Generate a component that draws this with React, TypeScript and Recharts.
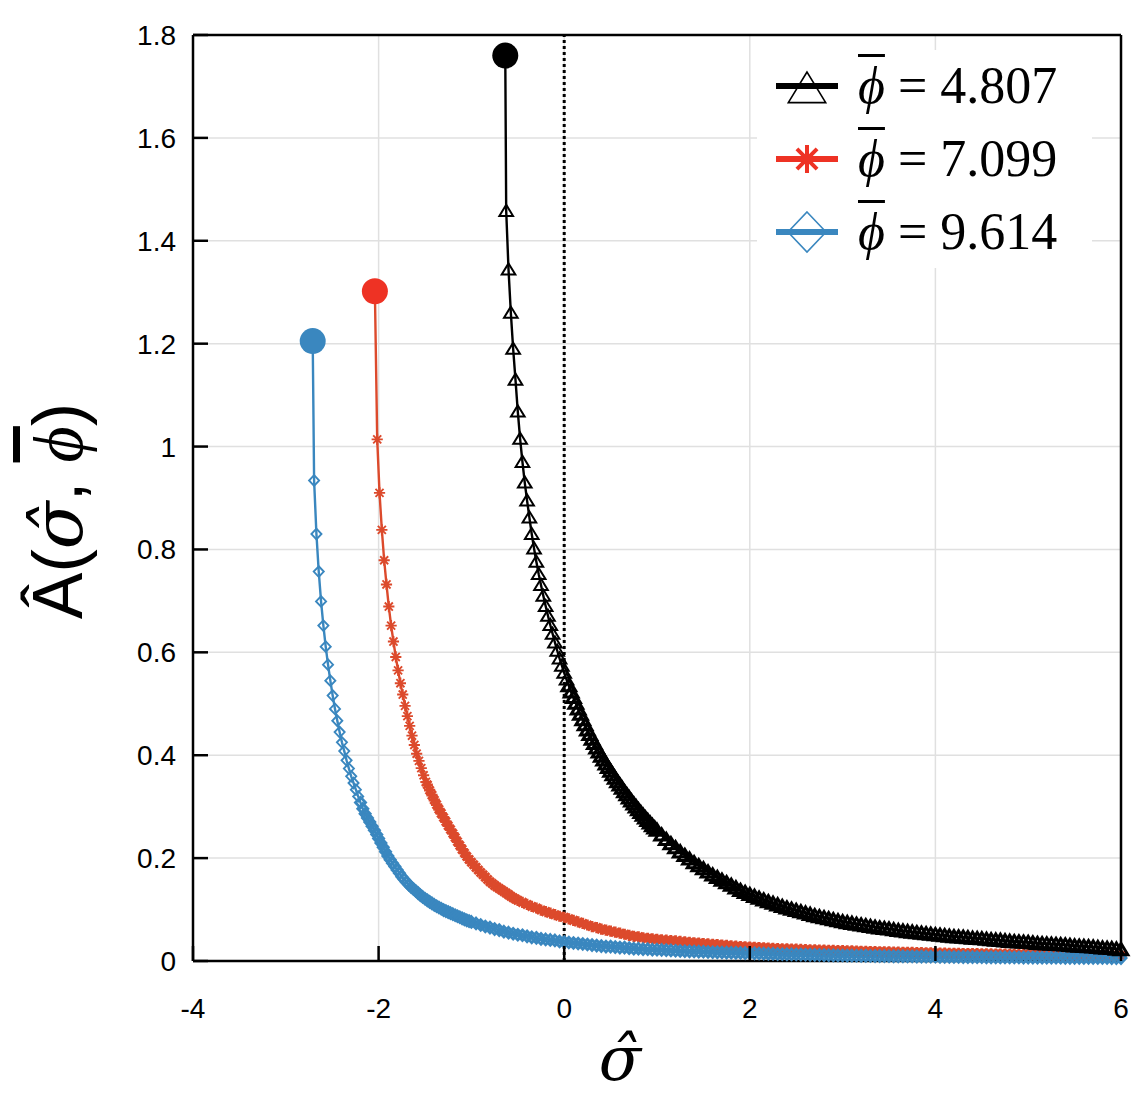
import { LineChart, Line, XAxis, YAxis, CartesianGrid, ReferenceLine } from 'recharts';

const xTicks = [-4, -2, 0, 2, 4, 6];
const yTicks = [0, 0.2, 0.4, 0.6, 0.8, 1, 1.2, 1.4, 1.6, 1.8];
const phiLabels = ['4.807', '7.099', '9.614'];

// [sigma, A]; the first pair is the branch point (big dot)
const curve4807: [number, number][] = [
  [-0.635, 1.76], [-0.625, 1.458], [-0.6, 1.344], [-0.575, 1.26], [-0.55, 1.19], [-0.525, 1.13],
  [-0.5, 1.068], [-0.475, 1.015], [-0.45, 0.97], [-0.425, 0.93], [-0.4, 0.895], [-0.375, 0.862],
  [-0.35, 0.83], [-0.325, 0.802], [-0.3, 0.776], [-0.275, 0.752], [-0.25, 0.731], [-0.225, 0.71],
  [-0.2, 0.69], [-0.175, 0.671], [-0.15, 0.653], [-0.125, 0.636], [-0.1, 0.619], [-0.075, 0.603],
  [-0.05, 0.588], [-0.025, 0.574], [0, 0.56], [0.025, 0.547], [0.05, 0.535], [0.075, 0.523],
  [0.1, 0.512], [0.125, 0.501], [0.15, 0.49], [0.175, 0.4795], [0.2, 0.469], [0.225, 0.459],
  [0.25, 0.449], [0.275, 0.44], [0.3, 0.431], [0.325, 0.4225], [0.35, 0.414], [0.375, 0.406],
  [0.4, 0.398], [0.425, 0.3905], [0.45, 0.383], [0.475, 0.376], [0.5, 0.369], [0.525, 0.362],
  [0.55, 0.355], [0.575, 0.3485], [0.6, 0.342], [0.625, 0.3355], [0.65, 0.329], [0.675, 0.323],
  [0.7, 0.317], [0.725, 0.311], [0.75, 0.305], [0.775, 0.2995], [0.8, 0.294], [0.825, 0.2885],
  [0.85, 0.283], [0.875, 0.278], [0.9, 0.273], [0.925, 0.268], [0.95, 0.263], [0.975, 0.2585],
  [1, 0.254], [1.05, 0.245],
  [1.1, 0.236], [1.15, 0.228], [1.2, 0.22], [1.25, 0.212], [1.3, 0.205], [1.35, 0.198],
  [1.4, 0.191], [1.45, 0.185], [1.5, 0.179], [1.55, 0.173], [1.6, 0.167], [1.65, 0.162],
  [1.7, 0.157], [1.75, 0.152], [1.8, 0.147], [1.85, 0.142], [1.9, 0.137], [1.95, 0.133],
  [2, 0.129], [2.05, 0.1255], [2.1, 0.122], [2.15, 0.1185], [2.2, 0.115], [2.25, 0.112],
  [2.3, 0.109], [2.35, 0.106], [2.4, 0.103], [2.45, 0.1005], [2.5, 0.098], [2.55, 0.0955],
  [2.6, 0.093], [2.65, 0.0905], [2.7, 0.088], [2.75, 0.086], [2.8, 0.084], [2.85, 0.082],
  [2.9, 0.08], [2.95, 0.078], [3, 0.076], [3.05, 0.0745], [3.1, 0.073], [3.15, 0.0715],
  [3.2, 0.07], [3.25, 0.0685], [3.3, 0.067], [3.35, 0.0655], [3.4, 0.064], [3.45, 0.063],
  [3.5, 0.062], [3.55, 0.0605], [3.6, 0.059], [3.65, 0.058], [3.7, 0.057], [3.75, 0.056],
  [3.8, 0.055], [3.85, 0.054], [3.9, 0.053], [3.95, 0.052], [4, 0.051], [4.05, 0.05],
  [4.1, 0.049], [4.15, 0.048], [4.2, 0.047], [4.25, 0.0465], [4.3, 0.046], [4.35, 0.045],
  [4.4, 0.044], [4.45, 0.0435], [4.5, 0.043], [4.55, 0.042], [4.6, 0.041], [4.65, 0.0405],
  [4.7, 0.04], [4.75, 0.039], [4.8, 0.038], [4.85, 0.0375], [4.9, 0.037], [4.95, 0.0365],
  [5, 0.036], [5.05, 0.035], [5.1, 0.034], [5.15, 0.0335], [5.2, 0.033], [5.25, 0.0325],
  [5.3, 0.032], [5.35, 0.0315], [5.4, 0.031], [5.45, 0.03], [5.5, 0.029], [5.55, 0.0285],
  [5.6, 0.028], [5.65, 0.0275], [5.7, 0.027], [5.75, 0.026], [5.8, 0.025], [5.85, 0.0245],
  [5.9, 0.024], [5.95, 0.023], [6, 0.022],
];

const curve7099: [number, number][] = [
  [-2.04, 1.302], [-2.015, 1.014], [-1.99, 0.91], [-1.965, 0.838], [-1.94, 0.779], [-1.915, 0.732],
  [-1.89, 0.689], [-1.865, 0.652], [-1.84, 0.621], [-1.815, 0.591], [-1.79, 0.565], [-1.765, 0.54],
  [-1.74, 0.518], [-1.715, 0.496], [-1.69, 0.476], [-1.665, 0.457], [-1.64, 0.438], [-1.615, 0.42],
  [-1.59, 0.403], [-1.565, 0.389], [-1.54, 0.375], [-1.515, 0.361], [-1.49, 0.348], [-1.475, 0.3425],
  [-1.45, 0.332], [-1.425, 0.3225], [-1.4, 0.313], [-1.375, 0.304], [-1.35, 0.295], [-1.325, 0.287],
  [-1.3, 0.279], [-1.275, 0.271], [-1.25, 0.263], [-1.225, 0.2555], [-1.2, 0.248], [-1.175, 0.24],
  [-1.15, 0.232], [-1.125, 0.2245], [-1.1, 0.217], [-1.075, 0.21], [-1.05, 0.203], [-1.025, 0.1975],
  [-1, 0.192], [-0.975, 0.187], [-0.95, 0.182], [-0.925, 0.177], [-0.9, 0.172], [-0.875, 0.1675],
  [-0.85, 0.163], [-0.825, 0.1585], [-0.8, 0.154], [-0.775, 0.1505], [-0.75, 0.147], [-0.725, 0.144],
  [-0.7, 0.141], [-0.675, 0.138], [-0.65, 0.135], [-0.625, 0.132], [-0.6, 0.129], [-0.575, 0.126],
  [-0.55, 0.123], [-0.525, 0.1205], [-0.5, 0.118], [-0.45, 0.114], [-0.4, 0.11], [-0.35, 0.106],
  [-0.3, 0.103], [-0.25, 0.099],
  [-0.2, 0.096], [-0.15, 0.093], [-0.1, 0.09], [-0.05, 0.087], [0, 0.085], [0.05, 0.082],
  [0.1, 0.079], [0.15, 0.076], [0.2, 0.073], [0.25, 0.07], [0.3, 0.067], [0.35, 0.065],
  [0.4, 0.062], [0.45, 0.06], [0.5, 0.058], [0.55, 0.056], [0.6, 0.054], [0.65, 0.052],
  [0.7, 0.05], [0.75, 0.048], [0.8, 0.047], [0.85, 0.045], [0.9, 0.044], [0.95, 0.043],
  [1, 0.042], [1.05, 0.041], [1.1, 0.0405], [1.15, 0.0398], [1.2, 0.039], [1.25, 0.038],
  [1.3, 0.037], [1.35, 0.0362], [1.4, 0.0355], [1.45, 0.0348], [1.5, 0.034], [1.55, 0.0332],
  [1.6, 0.0325], [1.65, 0.0318], [1.7, 0.031], [1.75, 0.0302], [1.8, 0.0295], [1.85, 0.0288],
  [1.9, 0.028], [1.95, 0.0275], [2, 0.027], [2.05, 0.0265], [2.1, 0.026], [2.15, 0.0255],
  [2.2, 0.025], [2.25, 0.0245], [2.3, 0.024], [2.35, 0.0238], [2.4, 0.0235], [2.45, 0.0232],
  [2.5, 0.023], [2.55, 0.0225], [2.6, 0.022], [2.65, 0.0218], [2.7, 0.0215], [2.75, 0.0212],
  [2.8, 0.021], [2.85, 0.0208], [2.9, 0.0205], [2.95, 0.0202], [3, 0.02], [3.05, 0.0198],
  [3.1, 0.0195], [3.15, 0.0192], [3.2, 0.019], [3.25, 0.0188], [3.3, 0.0185], [3.35, 0.0182],
  [3.4, 0.018], [3.45, 0.0178], [3.5, 0.0176], [3.55, 0.0174], [3.6, 0.0172], [3.65, 0.017],
  [3.7, 0.0168], [3.75, 0.0166], [3.8, 0.0164], [3.85, 0.0162], [3.9, 0.016], [3.95, 0.0158],
  [4, 0.0156], [4.05, 0.0154], [4.1, 0.0152], [4.15, 0.015], [4.2, 0.0149], [4.25, 0.0148],
  [4.3, 0.0146], [4.35, 0.0144], [4.4, 0.0143], [4.45, 0.0142], [4.5, 0.014], [4.55, 0.0138],
  [4.6, 0.0137], [4.65, 0.0136], [4.7, 0.0134], [4.75, 0.0132], [4.8, 0.0131], [4.85, 0.013],
  [4.9, 0.0128], [4.95, 0.0127], [5, 0.0126], [5.05, 0.0125], [5.1, 0.0124], [5.15, 0.0123],
  [5.2, 0.0122], [5.25, 0.0121], [5.3, 0.012], [5.35, 0.0119], [5.4, 0.0118], [5.45, 0.0117],
  [5.5, 0.0116], [5.55, 0.0115], [5.6, 0.0114], [5.65, 0.0113], [5.7, 0.0112], [5.75, 0.0111],
  [5.8, 0.011], [5.85, 0.0109], [5.9, 0.0108], [5.95, 0.0107], [6, 0.0106],
];

const curve9614: [number, number][] = [
  [-2.71, 1.205], [-2.695, 0.934], [-2.67, 0.83], [-2.645, 0.757], [-2.62, 0.699], [-2.595, 0.652],
  [-2.57, 0.611], [-2.545, 0.576], [-2.52, 0.545], [-2.495, 0.516], [-2.47, 0.49], [-2.445, 0.467],
  [-2.42, 0.445], [-2.395, 0.425], [-2.37, 0.408], [-2.345, 0.39], [-2.32, 0.374], [-2.295, 0.359],
  [-2.27, 0.346], [-2.245, 0.333], [-2.22, 0.32], [-2.195, 0.308], [-2.17, 0.296], [-2.145, 0.286],
  [-2.12, 0.278], [-2.095, 0.27], [-2.07, 0.262], [-2.045, 0.254], [-2.02, 0.246], [-2, 0.238],
  [-1.975, 0.2295], [-1.95, 0.221], [-1.925, 0.2125], [-1.9, 0.204], [-1.875, 0.197], [-1.85, 0.19],
  [-1.825, 0.1835], [-1.8, 0.177], [-1.775, 0.1705], [-1.75, 0.164], [-1.725, 0.1585], [-1.7, 0.153],
  [-1.675, 0.1485], [-1.65, 0.144], [-1.625, 0.14], [-1.6, 0.136], [-1.575, 0.132], [-1.55, 0.128],
  [-1.525, 0.1245], [-1.5, 0.121], [-1.475, 0.118], [-1.45, 0.115], [-1.425, 0.112], [-1.4, 0.109],
  [-1.375, 0.1065], [-1.35, 0.104], [-1.325, 0.1015], [-1.3, 0.099], [-1.275, 0.097], [-1.25, 0.095],
  [-1.225, 0.093], [-1.2, 0.091], [-1.175, 0.089], [-1.15, 0.087], [-1.125, 0.085], [-1.1, 0.083],
  [-1.075, 0.081], [-1.05, 0.079], [-1.025, 0.0775], [-1, 0.076], [-0.95, 0.073], [-0.9, 0.07],
  [-0.85, 0.067], [-0.8, 0.065],
  [-0.75, 0.062], [-0.7, 0.06], [-0.65, 0.057], [-0.6, 0.055], [-0.55, 0.053], [-0.5, 0.051],
  [-0.45, 0.05], [-0.4, 0.048], [-0.35, 0.046], [-0.3, 0.045], [-0.25, 0.043], [-0.2, 0.042],
  [-0.15, 0.041], [-0.1, 0.04], [-0.05, 0.038], [0, 0.037], [0.05, 0.036], [0.1, 0.035],
  [0.15, 0.034], [0.2, 0.033], [0.25, 0.032], [0.3, 0.031], [0.35, 0.03], [0.4, 0.029],
  [0.45, 0.028], [0.5, 0.028], [0.55, 0.027], [0.6, 0.026], [0.65, 0.026], [0.7, 0.025],
  [0.75, 0.024], [0.8, 0.024], [0.85, 0.023], [0.9, 0.023], [0.95, 0.022], [1, 0.022],
  [1.05, 0.0215], [1.1, 0.021], [1.15, 0.0205], [1.2, 0.02], [1.25, 0.0195], [1.3, 0.019],
  [1.35, 0.0188], [1.4, 0.0185], [1.45, 0.0182], [1.5, 0.018], [1.55, 0.0175], [1.6, 0.017],
  [1.65, 0.0168], [1.7, 0.0165], [1.75, 0.0162], [1.8, 0.016], [1.85, 0.0158], [1.9, 0.0155],
  [1.95, 0.0152], [2, 0.015], [2.05, 0.0148], [2.1, 0.0145], [2.15, 0.0142], [2.2, 0.014],
  [2.25, 0.0138], [2.3, 0.0135], [2.35, 0.0132], [2.4, 0.013], [2.45, 0.0128], [2.5, 0.0126],
  [2.55, 0.0124], [2.6, 0.0122], [2.65, 0.012], [2.7, 0.0118], [2.75, 0.0116], [2.8, 0.0114],
  [2.85, 0.0112], [2.9, 0.011], [2.95, 0.0108], [3, 0.0107], [3.05, 0.0106], [3.1, 0.0104],
  [3.15, 0.0102], [3.2, 0.0101], [3.25, 0.01], [3.3, 0.0098], [3.35, 0.0096], [3.4, 0.0095],
  [3.45, 0.0094], [3.5, 0.0092], [3.55, 0.0091], [3.6, 0.009], [3.65, 0.0089], [3.7, 0.0088],
  [3.75, 0.0087], [3.8, 0.0086], [3.85, 0.0085], [3.9, 0.0084], [3.95, 0.0083], [4, 0.0082],
  [4.05, 0.0081], [4.1, 0.008], [4.15, 0.0079], [4.2, 0.0078], [4.25, 0.0077], [4.3, 0.0076],
  [4.35, 0.0075], [4.4, 0.0075], [4.45, 0.0074], [4.5, 0.0073], [4.55, 0.0072], [4.6, 0.0072],
  [4.65, 0.0071], [4.7, 0.007], [4.75, 0.0069], [4.8, 0.0069], [4.85, 0.0068], [4.9, 0.0068],
  [4.95, 0.0067], [5, 0.0066], [5.05, 0.0066], [5.1, 0.0065], [5.15, 0.0065], [5.2, 0.0064],
  [5.25, 0.0064], [5.3, 0.0063], [5.35, 0.0063], [5.4, 0.0062], [5.45, 0.0062], [5.5, 0.0061],
  [5.55, 0.0061], [5.6, 0.006], [5.65, 0.006], [5.7, 0.0059], [5.75, 0.0059], [5.8, 0.0058],
  [5.85, 0.0058], [5.9, 0.0057], [5.95, 0.0057], [6, 0.0056],
];

type Shape = 'triangle' | 'star' | 'diamond';

const BLACK = '#000000';
const RED = '#dc4a2c';
const RED_DOT = '#ee3224';
const BLUE = '#3a87bf';

const PLOT_LEFT = 193;
const PLOT_BOTTOM = 961;
const TICK_LEN = 15;

const toRows = (pts: [number, number][]) => pts.map(([x, y]) => ({ x, y }));

function Marker({ shape, cx, cy, s, color, sw }: { shape: Shape; cx: number; cy: number; s: number; color: string; sw: number }) {
  if (shape === 'triangle') {
    return (
      <polygon
        points={`${cx},${cy - s} ${cx - s * 1.1},${cy + s * 0.8} ${cx + s * 1.1},${cy + s * 0.8}`}
        fill="none"
        stroke={color}
        strokeWidth={sw}
      />
    );
  }
  if (shape === 'diamond') {
    return (
      <polygon
        points={`${cx},${cy - s} ${cx + s * 0.95},${cy} ${cx},${cy + s} ${cx - s * 0.95},${cy}`}
        fill="none"
        stroke={color}
        strokeWidth={sw}
      />
    );
  }
  const d = s * 0.72;
  return (
    <path
      d={`M${cx - s},${cy}H${cx + s}M${cx},${cy - s}V${cy + s}M${cx - d},${cy - d}L${cx + d},${cy + d}M${cx - d},${cy + d}L${cx + d},${cy - d}`}
      stroke={color}
      strokeWidth={sw}
      fill="none"
    />
  );
}

// markers packed closer than a few pixels merge into a solid band, as in the original figure
function makeDot(shape: Shape, color: string, dotColor: string, s: number, sw: number, swDense: number) {
  return (props: any) => {
    const { cx, cy, index, points } = props;
    if (cx == null || cy == null) return <g key={index} />;
    if (index === 0) return <circle key={index} cx={cx} cy={cy} r={13} fill={dotColor} />;
    const prev = points && points[index - 1];
    const gap = prev && prev.x != null ? Math.hypot(cx - prev.x, cy - prev.y) : 99;
    return (
      <g key={index}>
        <Marker shape={shape} cx={cx} cy={cy} s={s} color={color} sw={gap < 7 ? swDense : sw} />
      </g>
    );
  };
}

const series = [
  { name: phiLabels[0], rows: toRows(curve4807), shape: 'triangle' as Shape, color: BLACK, dot: BLACK, legendColor: BLACK, s: 6.2, sw: 2, swDense: 3 },
  { name: phiLabels[1], rows: toRows(curve7099), shape: 'star' as Shape, color: RED, dot: RED_DOT, legendColor: RED_DOT, s: 5.6, sw: 1.9, swDense: 2.8 },
  { name: phiLabels[2], rows: toRows(curve9614), shape: 'diamond' as Shape, color: BLUE, dot: BLUE, legendColor: BLUE, s: 5.3, sw: 1.9, swDense: 2.8 },
];

const tickFont = { fill: '#000', fontSize: 28, fontFamily: 'Liberation Sans' };

function YTick({ x, y, payload }: any) {
  return (
    <g>
      <line x1={PLOT_LEFT} x2={PLOT_LEFT + TICK_LEN} y1={y} y2={y} stroke="#000" strokeWidth={2.5} />
      <text x={x} y={y} dy={10} textAnchor="end" {...tickFont}>
        {payload.value}
      </text>
    </g>
  );
}

function XTick({ x, payload }: any) {
  return (
    <g>
      <line x1={x} x2={x} y1={PLOT_BOTTOM} y2={PLOT_BOTTOM - TICK_LEN} stroke="#000" strokeWidth={2.5} />
      <text x={x} y={PLOT_BOTTOM + 57} textAnchor="middle" {...tickFont}>
        {payload.value}
      </text>
    </g>
  );
}

function YLabel() {
  return (
    <text transform="translate(82, 511) rotate(-90)" textAnchor="middle" fontSize={70} fill="#000">
      <tspan fontFamily="Liberation Sans">Â(</tspan>
      <tspan fontFamily="DejaVu Serif" fontStyle="italic">σ̂</tspan>
      <tspan fontFamily="Liberation Sans">, </tspan>
      <tspan fontFamily="Liberation Serif" fontStyle="italic" style={{ textDecoration: 'overline' }}>ϕ</tspan>
      <tspan fontFamily="Liberation Sans">)</tspan>
    </text>
  );
}

function XLabel() {
  return (
    <text x={620} y={1080} textAnchor="middle" fontSize={62} fontFamily="DejaVu Serif" fontStyle="italic" fill="#000">
      σ̂
    </text>
  );
}

function LegendIcon({ shape, color }: { shape: Shape; color: string }) {
  const big = shape === 'triangle' ? 17 : shape === 'star' ? 14 : 20;
  return (
    <svg width={66} height={48} style={{ display: 'block' }}>
      <line x1={2} y1={24} x2={64} y2={24} stroke={color} strokeWidth={6} />
      <Marker shape={shape} cx={33} cy={shape === 'triangle' ? 27 : 24} s={big} color={color} sw={shape === 'star' ? 4 : 1.6} />
    </svg>
  );
}

const axisStroke = { stroke: '#000', strokeWidth: 2.5 };

export default function App() {
  return (
    <div style={{ position: 'absolute', left: 0, top: 0, width: 1136, height: 1096, background: '#fff' }}>
      <LineChart width={1136} height={1096} margin={{ top: 35, right: 15, bottom: 0, left: 0 }}>
        <CartesianGrid stroke="#e0e0e0" strokeWidth={1.5} />
        <XAxis
          type="number"
          dataKey="x"
          domain={[-4, 6]}
          ticks={xTicks}
          height={135}
          tick={<XTick />}
          tickSize={0}
          tickMargin={0}
          tickLine={false}
          axisLine={axisStroke}
          label={<XLabel />}
        />
        <XAxis
          xAxisId="top"
          orientation="top"
          type="number"
          domain={[-4, 6]}
          ticks={xTicks}
          height={1}
          mirror
          tick={false}
          tickSize={TICK_LEN}
          axisLine={axisStroke}
          tickLine={axisStroke}
        />
        <YAxis
          type="number"
          domain={[0, 1.8]}
          ticks={yTicks}
          width={193}
          tick={<YTick />}
          tickSize={0}
          tickMargin={17}
          tickLine={false}
          axisLine={axisStroke}
          label={<YLabel />}
        />
        <YAxis
          yAxisId="right"
          orientation="right"
          type="number"
          domain={[0, 1.8]}
          ticks={yTicks}
          width={1}
          mirror
          tick={false}
          tickSize={TICK_LEN}
          axisLine={axisStroke}
          tickLine={axisStroke}
        />
        <ReferenceLine x={0} stroke="#000" strokeWidth={3} strokeDasharray="3 3" />
        {[series[1], series[2], series[0]].map((sr) => (
          <Line
            key={sr.name}
            data={sr.rows}
            dataKey="y"
            type="linear"
            stroke={sr.color}
            strokeWidth={2.4}
            dot={makeDot(sr.shape, sr.color, sr.dot, sr.s, sr.sw, sr.swDense)}
            activeDot={false}
            isAnimationActive={false}
          />
        ))}
      </LineChart>
      <div
        style={{
          position: 'absolute',
          left: 757,
          top: 50,
          width: 335,
          height: 218,
          background: '#fff',
          display: 'flex',
          flexDirection: 'column',
          justifyContent: 'space-around',
          paddingLeft: 17,
          boxSizing: 'border-box',
        }}
      >
        {series.map((sr) => (
          <div key={sr.name} style={{ display: 'flex', alignItems: 'center', height: 72 }}>
            <LegendIcon shape={sr.shape} color={sr.legendColor} />
            <span style={{ marginLeft: 18, fontFamily: 'Liberation Serif', fontSize: 52, color: '#000', whiteSpace: 'pre', lineHeight: 1 }}>
              <span style={{ fontStyle: 'italic', textDecoration: 'overline', textDecorationThickness: 3 }}>ϕ</span>
              {' = ' + sr.name}
            </span>
          </div>
        ))}
      </div>
    </div>
  );
}
